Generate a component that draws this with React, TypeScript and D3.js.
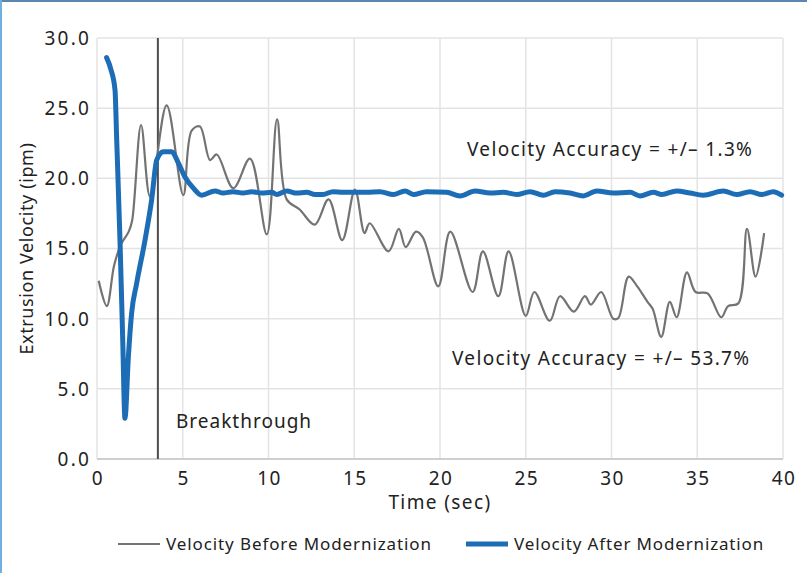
import React from "react";
import * as d3 from "d3";

// time (sec) / velocity (ipm)
const beforeTime = [0.1, 0.57, 1.0, 1.4, 1.85, 2.05, 2.57, 3.09, 4.06, 5.03, 5.52, 6.0, 6.59, 6.98, 7.95, 8.92, 9.9, 10.5, 11.06, 11.8, 12.7, 13.5, 14.3, 15.04, 15.6, 15.9, 17.0, 17.6, 18.0, 18.6, 19.0, 19.9, 20.6, 21.9, 22.5, 23.4, 24.0, 25.0, 25.5, 26.4, 27.0, 27.8, 28.45, 28.8, 29.4, 30.1, 30.4, 31.0, 31.5, 32.1, 32.4, 32.9, 33.4, 33.8, 34.4, 34.9, 35.6, 36.4, 36.8, 37.4, 37.9, 38.4, 38.9];
const beforeVelocity = [12.7, 10.9, 13.8, 15.3, 16.2, 17.0, 23.8, 18.7, 25.2, 18.8, 23.4, 23.7, 21.3, 21.7, 19.3, 21.4, 16.0, 24.2, 18.5, 17.8, 16.7, 18.5, 15.6, 19.2, 16.1, 16.8, 14.8, 16.4, 15.1, 16.2, 15.8, 12.3, 16.2, 11.9, 14.8, 11.6, 14.8, 10.2, 11.9, 9.85, 11.6, 10.5, 11.6, 11.0, 11.9, 10.0, 10.05, 13.0, 12.3, 11.2, 10.7, 8.7, 11.2, 10.1, 13.3, 11.9, 11.8, 10.1, 10.9, 11.1, 16.4, 13.0, 16.1];

const afterTime = [0.56, 0.8, 1.05, 1.15, 1.34, 1.5, 1.63, 1.83, 2.02, 2.31, 2.8, 3.19, 3.48, 3.87, 4.35, 4.74, 5.13, 5.62, 6.1, 6.88, 7.35, 7.93, 8.51, 9.02, 9.6, 10.19, 10.48, 11.06, 11.64, 12.23, 12.71, 13.18, 13.76, 14.34, 14.93, 15.73, 16.5, 17.28, 17.96, 18.44, 19.22, 20.39, 21.17, 22.04, 22.92, 23.69, 24.47, 25.25, 26.02, 26.71, 27.58, 28.36, 29.14, 30.1, 31.08, 31.66, 32.44, 32.93, 33.8, 34.58, 35.35, 36.52, 37.3, 38.08, 38.76, 39.43, 39.92];
const afterVelocity = [28.6, 27.8, 26.3, 22.7, 15.6, 8.5, 2.9, 7.3, 10.4, 12.5, 15.6, 18.5, 21.3, 21.9, 21.9, 21.1, 20.1, 19.3, 18.8, 19.1, 18.95, 19.05, 18.95, 19.05, 18.95, 19.0, 18.85, 19.1, 18.95, 19.0, 18.85, 18.85, 19.05, 19.0, 19.0, 19.0, 19.05, 18.85, 19.1, 18.85, 19.05, 19.0, 18.75, 19.1, 18.95, 19.0, 18.85, 19.05, 18.8, 19.05, 18.95, 18.75, 19.1, 18.95, 19.0, 18.75, 19.0, 18.85, 19.1, 18.95, 18.8, 19.1, 18.85, 19.05, 18.85, 19.05, 18.8];

const xTicks = [0, 5, 10, 15, 20, 25, 30, 35, 40];
const yTicks = [0, 5, 10, 15, 20, 25, 30];
const breakthroughTime = 3.55;

const font = "'Noto Sans', sans-serif";
const ink = "#222";

export default function App() {
  const width = 807;
  const height = 573;
  const margin = { top: 38, right: 24, bottom: 114, left: 97 };

  const x = d3.scaleLinear().domain([0, 40]).range([margin.left, width - margin.right]);
  const y = d3.scaleLinear().domain([0, 30]).range([height - margin.bottom, margin.top]);

  const before = beforeTime.map((t, i) => [t, beforeVelocity[i]] as [number, number]);
  const after = afterTime.map((t, i) => [t, afterVelocity[i]] as [number, number]);

  const grayLine = d3
    .line<[number, number]>()
    .x((d) => x(d[0]))
    .y((d) => y(d[1]))
    .curve(d3.curveCatmullRom.alpha(0.5));
  const blueLine = d3
    .line<[number, number]>()
    .x((d) => x(d[0]))
    .y((d) => y(d[1]))
    .curve(d3.curveMonotoneX);

  return (
    <svg width={width} height={height} style={{ display: "block", background: "#fff" }}>
      <style>{`body{margin:0}`}</style>
      {/* frame */}
      <line x1={0} x2={width} y1={1} y2={1} stroke="#5b86ad" strokeWidth={2} />
      <line x1={1} x2={1} y1={0} y2={height} stroke="#6fb0e0" strokeWidth={2} />

      {/* grid */}
      {xTicks.map((t) => (
        <line key={"gx" + t} x1={x(t)} x2={x(t)} y1={y(30)} y2={y(0)} stroke="#e3e3e3" strokeWidth={1.5} />
      ))}
      {yTicks.map((t) => (
        <line key={"gy" + t} x1={x(0)} x2={x(40)} y1={y(t)} y2={y(t)} stroke={t === 0 ? "#cfcfcf" : "#e3e3e3"} strokeWidth={t === 0 ? 2 : 1.5} />
      ))}

      {/* tick labels */}
      {yTicks.map((t) => (
        <text key={"ty" + t} x={x(0) - 6} y={y(t)} dy="0.36em" textAnchor="end" fontFamily={font} fontSize={19} letterSpacing={2.2} fill={ink}>
          {t.toFixed(1)}
        </text>
      ))}
      {xTicks.map((t) => (
        <text key={"tx" + t} x={x(t) + 1} y={y(0) + 26} textAnchor="middle" fontFamily={font} fontSize={19} letterSpacing={1.5} fill={ink}>
          {t}
        </text>
      ))}

      <text x={(x(0) + x(40)) / 2} y={y(0) + 50} textAnchor="middle" fontFamily={font} fontSize={19} letterSpacing={1.4} fill={ink}>
        Time (sec)
      </text>
      <text transform={`translate(33,${(y(0) + y(30)) / 2}) rotate(-90)`} textAnchor="middle" fontFamily={font} fontSize={18} letterSpacing={0.6} fill={ink}>
        Extrusion Velocity (ipm)
      </text>

      {/* breakthrough marker */}
      <line x1={x(breakthroughTime)} x2={x(breakthroughTime)} y1={y(30)} y2={y(0)} stroke="#4d4d4d" strokeWidth={2} />
      <text x={176} y={428} fontFamily={font} fontSize={19} letterSpacing={1} fill={ink}>Breakthrough</text>

      {/* series */}
      <path d={grayLine(before) || ""} fill="none" stroke="#737373" strokeWidth={2.2} />
      <path d={blueLine(after) || ""} fill="none" stroke="#1c6db5" strokeWidth={5} strokeLinejoin="round" strokeLinecap="round" />

      {/* annotations */}
      <text x={467} y={156} fontFamily={font} fontSize={19} letterSpacing={1.35} fill={ink}>Velocity Accuracy = +/– 1.3%</text>
      <text x={452} y={365} fontFamily={font} fontSize={19} letterSpacing={1.35} fill={ink}>Velocity Accuracy = +/– 53.7%</text>

      {/* legend */}
      <line x1={118} x2={160} y1={544} y2={544} stroke="#737373" strokeWidth={2.2} />
      <text x={166} y={550} fontFamily={font} fontSize={17} letterSpacing={0.9} fill={ink}>Velocity Before Modernization</text>
      <line x1={466} x2={508} y1={544} y2={544} stroke="#1c6db5" strokeWidth={5} />
      <text x={514} y={550} fontFamily={font} fontSize={17} letterSpacing={0.85} fill={ink}>Velocity After Modernization</text>
    </svg>
  );
}
